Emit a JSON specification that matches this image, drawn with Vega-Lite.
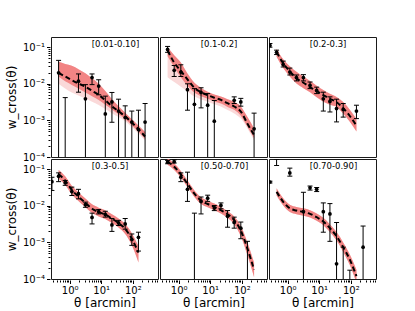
{
  "$schema": "https://vega.github.io/schema/vega-lite/v6.json",
  "padding": {"left": 5, "top": 36, "right": 5, "bottom": 2},
  "config": {
    "font": "DejaVu Sans",
    "view": {"stroke": "#1a1a1a", "strokeWidth": 1},
    "header": {"labels": false, "title": null, "labelFontSize": 0, "labelPadding": 0, "titlePadding": 0},
    "axis": {"grid": false, "domain": false, "tickColor": "#000", "labelColor": "#000", "titleColor": "#000", "labelFontSize": 10, "titleFontSize": 12, "titleFontWeight": "normal", "labelFlush": false, "labelOverlap": false, "labelBound": false}
  },
  "data": {"values": [
    {"p":"[0.01-0.10]","t":0.447,"m":0.0200,"hi":0.0398,"lo":0.0158,"flo":0.0100},
    {"p":"[0.01-0.10]","t":0.724,"m":0.0158,"hi":0.0347,"lo":0.0117,"flo":0.00741},
    {"p":"[0.01-0.10]","t":1.175,"m":0.0126,"hi":0.0309,"lo":0.00933,"flo":0.00575},
    {"p":"[0.01-0.10]","t":1.905,"m":0.0102,"hi":0.0251,"lo":0.00741,"flo":0.00479},
    {"p":"[0.01-0.10]","t":3.162,"m":0.00832,"hi":0.0195,"lo":0.00575,"flo":0.00398},
    {"p":"[0.01-0.10]","t":5.129,"m":0.00646,"hi":0.0141,"lo":0.00457,"flo":0.00324},
    {"p":"[0.01-0.10]","t":8.318,"m":0.00501,"hi":0.0100,"lo":0.00363,"flo":0.00263},
    {"p":"[0.01-0.10]","t":13.49,"m":0.00355,"hi":0.00631,"lo":0.00269,"flo":0.00204},
    {"p":"[0.01-0.10]","t":21.88,"m":0.00245,"hi":0.00380,"lo":0.00200,"flo":0.00158},
    {"p":"[0.01-0.10]","t":35.48,"m":0.00178,"hi":0.00245,"lo":0.00148,"flo":0.00123},
    {"p":"[0.01-0.10]","t":57.54,"m":0.00129,"hi":0.00162,"lo":0.00110,"flo":0.000955},
    {"p":"[0.01-0.10]","t":93.33,"m":0.000871,"hi":0.00107,"lo":0.000741,"flo":0.000661},
    {"p":"[0.01-0.10]","t":151.4,"m":0.000575,"hi":0.000724,"lo":0.000490,"flo":0.000437},
    {"p":"[0.01-0.10]","t":245.5,"m":0.000363,"hi":0.000479,"lo":0.000309,"flo":0.000282},
    {"p":"[0.1-0.2]","t":0.447,"m":0.0813,"hi":0.100,"lo":0.0562,"flo":0.0151},
    {"p":"[0.1-0.2]","t":0.724,"m":0.0380,"hi":0.0603,"lo":0.0282,"flo":0.0112},
    {"p":"[0.1-0.2]","t":1.175,"m":0.0224,"hi":0.0380,"lo":0.0151,"flo":0.00832},
    {"p":"[0.1-0.2]","t":1.905,"m":0.0132,"hi":0.0191,"lo":0.00891,"flo":0.00617},
    {"p":"[0.1-0.2]","t":3.162,"m":0.00776,"hi":0.0107,"lo":0.00575,"flo":0.00447},
    {"p":"[0.1-0.2]","t":5.129,"m":0.00589,"hi":0.00776,"lo":0.00457,"flo":0.00372},
    {"p":"[0.1-0.2]","t":8.318,"m":0.00490,"hi":0.00603,"lo":0.00389,"flo":0.00324},
    {"p":"[0.1-0.2]","t":13.49,"m":0.00417,"hi":0.00513,"lo":0.00331,"flo":0.00275},
    {"p":"[0.1-0.2]","t":21.88,"m":0.00363,"hi":0.00447,"lo":0.00288,"flo":0.00240},
    {"p":"[0.1-0.2]","t":35.48,"m":0.00295,"hi":0.00380,"lo":0.00234,"flo":0.00191},
    {"p":"[0.1-0.2]","t":57.54,"m":0.00240,"hi":0.00324,"lo":0.00195,"flo":0.00155},
    {"p":"[0.1-0.2]","t":93.33,"m":0.00174,"hi":0.00240,"lo":0.00135,"flo":0.00112},
    {"p":"[0.1-0.2]","t":151.4,"m":0.000813,"hi":0.00123,"lo":0.000676,"flo":0.000603},
    {"p":"[0.1-0.2]","t":245.5,"m":0.000398,"hi":0.000603,"lo":0.000331,"flo":0.000282},
    {"p":"[0.2-0.3]","t":0.447,"m":0.0741,"hi":0.0912,"lo":0.0550,"flo":0.0550},
    {"p":"[0.2-0.3]","t":0.724,"m":0.0363,"hi":0.0468,"lo":0.0269,"flo":0.0269},
    {"p":"[0.2-0.3]","t":1.175,"m":0.0219,"hi":0.0302,"lo":0.0158,"flo":0.0158},
    {"p":"[0.2-0.3]","t":1.905,"m":0.0141,"hi":0.0214,"lo":0.0102,"flo":0.0102},
    {"p":"[0.2-0.3]","t":3.162,"m":0.0107,"hi":0.0158,"lo":0.00759,"flo":0.00759},
    {"p":"[0.2-0.3]","t":5.129,"m":0.00813,"hi":0.0120,"lo":0.00589,"flo":0.00589},
    {"p":"[0.2-0.3]","t":8.318,"m":0.00631,"hi":0.00891,"lo":0.00427,"flo":0.00427},
    {"p":"[0.2-0.3]","t":13.49,"m":0.00490,"hi":0.00676,"lo":0.00324,"flo":0.00324},
    {"p":"[0.2-0.3]","t":21.88,"m":0.00389,"hi":0.00537,"lo":0.00269,"flo":0.00269},
    {"p":"[0.2-0.3]","t":35.48,"m":0.00316,"hi":0.00437,"lo":0.00234,"flo":0.00234},
    {"p":"[0.2-0.3]","t":57.54,"m":0.00214,"hi":0.00316,"lo":0.00155,"flo":0.00155},
    {"p":"[0.2-0.3]","t":93.33,"m":0.00132,"hi":0.00195,"lo":0.000912,"flo":0.000912},
    {"p":"[0.2-0.3]","t":151.4,"m":0.000724,"hi":0.00110,"lo":0.000501,"flo":0.000501},
    {"p":"[0.3-0.5]","t":0.447,"m":0.0724,"hi":0.0955,"lo":0.0550,"flo":0.0550},
    {"p":"[0.3-0.5]","t":0.724,"m":0.0490,"hi":0.0646,"lo":0.0372,"flo":0.0372},
    {"p":"[0.3-0.5]","t":1.175,"m":0.0269,"hi":0.0355,"lo":0.0204,"flo":0.0204},
    {"p":"[0.3-0.5]","t":1.905,"m":0.0178,"hi":0.0234,"lo":0.0135,"flo":0.0135},
    {"p":"[0.3-0.5]","t":3.162,"m":0.0120,"hi":0.0158,"lo":0.00912,"flo":0.00912},
    {"p":"[0.3-0.5]","t":5.129,"m":0.00832,"hi":0.0110,"lo":0.00631,"flo":0.00631},
    {"p":"[0.3-0.5]","t":8.318,"m":0.00676,"hi":0.00891,"lo":0.00513,"flo":0.00513},
    {"p":"[0.3-0.5]","t":13.49,"m":0.00575,"hi":0.00759,"lo":0.00437,"flo":0.00437},
    {"p":"[0.3-0.5]","t":21.88,"m":0.00447,"hi":0.00589,"lo":0.00339,"flo":0.00339},
    {"p":"[0.3-0.5]","t":35.48,"m":0.00339,"hi":0.00447,"lo":0.00257,"flo":0.00257},
    {"p":"[0.3-0.5]","t":57.54,"m":0.00234,"hi":0.00316,"lo":0.00170,"flo":0.00170},
    {"p":"[0.3-0.5]","t":93.33,"m":0.00126,"hi":0.00178,"lo":0.000832,"flo":0.000832},
    {"p":"[0.3-0.5]","t":151.4,"m":0.000525,"hi":0.000794,"lo":0.000282,"flo":0.000282},
    {"p":"[0.50-0.70]","t":0.447,"m":0.162,"hi":0.200,"lo":0.132,"flo":0.132},
    {"p":"[0.50-0.70]","t":0.724,"m":0.117,"hi":0.145,"lo":0.0955,"flo":0.0955},
    {"p":"[0.50-0.70]","t":1.175,"m":0.0724,"hi":0.0891,"lo":0.0589,"flo":0.0589},
    {"p":"[0.50-0.70]","t":1.905,"m":0.0398,"hi":0.0490,"lo":0.0324,"flo":0.0324},
    {"p":"[0.50-0.70]","t":3.162,"m":0.0214,"hi":0.0263,"lo":0.0174,"flo":0.0174},
    {"p":"[0.50-0.70]","t":5.129,"m":0.0138,"hi":0.0170,"lo":0.0112,"flo":0.0112},
    {"p":"[0.50-0.70]","t":8.318,"m":0.0112,"hi":0.0138,"lo":0.00912,"flo":0.00912},
    {"p":"[0.50-0.70]","t":13.49,"m":0.00933,"hi":0.0115,"lo":0.00759,"flo":0.00759},
    {"p":"[0.50-0.70]","t":21.88,"m":0.00759,"hi":0.00933,"lo":0.00617,"flo":0.00617},
    {"p":"[0.50-0.70]","t":35.48,"m":0.00589,"hi":0.00724,"lo":0.00468,"flo":0.00468},
    {"p":"[0.50-0.70]","t":57.54,"m":0.00407,"hi":0.00513,"lo":0.00309,"flo":0.00309},
    {"p":"[0.50-0.70]","t":93.33,"m":0.00209,"hi":0.00282,"lo":0.00148,"flo":0.00148},
    {"p":"[0.50-0.70]","t":151.4,"m":0.000676,"hi":0.00100,"lo":0.000447,"flo":0.000447},
    {"p":"[0.50-0.70]","t":245.5,"m":0.000178,"hi":0.000282,"lo":0.000112,"flo":0.000112},
    {"p":"[0.70-0.90]","t":0.447,"m":0.0240,"hi":0.0302,"lo":0.0191,"flo":0.0191},
    {"p":"[0.70-0.90]","t":0.724,"m":0.0129,"hi":0.0162,"lo":0.0102,"flo":0.0102},
    {"p":"[0.70-0.90]","t":1.175,"m":0.00851,"hi":0.0107,"lo":0.00676,"flo":0.00676},
    {"p":"[0.70-0.90]","t":1.905,"m":0.00741,"hi":0.00933,"lo":0.00589,"flo":0.00589},
    {"p":"[0.70-0.90]","t":3.162,"m":0.00676,"hi":0.00851,"lo":0.00537,"flo":0.00537},
    {"p":"[0.70-0.90]","t":5.129,"m":0.00603,"hi":0.00759,"lo":0.00479,"flo":0.00479},
    {"p":"[0.70-0.90]","t":8.318,"m":0.00490,"hi":0.00617,"lo":0.00389,"flo":0.00389},
    {"p":"[0.70-0.90]","t":13.49,"m":0.00372,"hi":0.00468,"lo":0.00295,"flo":0.00295},
    {"p":"[0.70-0.90]","t":21.88,"m":0.00245,"hi":0.00309,"lo":0.00191,"flo":0.00191},
    {"p":"[0.70-0.90]","t":35.48,"m":0.00148,"hi":0.00191,"lo":0.00112,"flo":0.00112},
    {"p":"[0.70-0.90]","t":57.54,"m":0.000741,"hi":0.00100,"lo":0.000550,"flo":0.000550},
    {"p":"[0.70-0.90]","t":93.33,"m":0.000339,"hi":0.000468,"lo":0.000240,"flo":0.000240},
    {"p":"[0.70-0.90]","t":151.4,"m":0.000120,"hi":0.000178,"lo":0.0000794,"flo":0.0000794},

    {"p":"[0.01-0.10]","t":0.447,"w":0.0200,"el":0.000001,"eh":0.0437},
    {"p":"[0.01-0.10]","t":0.724,"el":0.000001,"eh":0.0042},
    {"p":"[0.01-0.10]","t":1.905,"w":0.0118,"el":0.0059,"eh":0.0186},
    {"p":"[0.01-0.10]","t":3.162,"w":0.0039,"el":0.000001,"eh":0.0095},
    {"p":"[0.01-0.10]","t":5.129,"w":0.0148,"el":0.0095,"eh":0.0186},
    {"p":"[0.01-0.10]","t":8.318,"w":0.0087,"el":0.0050,"eh":0.0129},
    {"p":"[0.01-0.10]","t":13.49,"w":0.0015,"el":0.000001,"eh":0.0046},
    {"p":"[0.01-0.10]","t":21.88,"w":0.0032,"el":0.00089,"eh":0.0058},
    {"p":"[0.01-0.10]","t":35.48,"w":0.0018,"el":0.000001,"eh":0.0038},
    {"p":"[0.01-0.10]","t":57.54,"w":0.0012,"el":0.000001,"eh":0.0025},
    {"p":"[0.01-0.10]","t":93.33,"w":0.0009,"el":0.000001,"eh":0.0018},
    {"p":"[0.01-0.10]","t":151.4,"w":0.00056,"el":0.000001,"eh":0.0019},
    {"p":"[0.01-0.10]","t":245.5,"w":0.0009,"el":0.000001,"eh":0.0029},
    {"p":"[0.1-0.2]","t":0.447,"w":0.087,"el":0.0724,"eh":0.105},
    {"p":"[0.1-0.2]","t":0.724,"w":0.0234,"el":0.0158,"eh":0.0316},
    {"p":"[0.1-0.2]","t":1.175,"w":0.0209,"el":0.0158,"eh":0.0331},
    {"p":"[0.1-0.2]","t":1.905,"w":0.0069,"el":0.0019,"eh":0.0100},
    {"p":"[0.1-0.2]","t":3.162,"w":0.00275,"el":0.000001,"eh":0.0074},
    {"p":"[0.1-0.2]","t":5.129,"w":0.0058,"el":0.0022,"eh":0.0078},
    {"p":"[0.1-0.2]","t":8.318,"w":0.0026,"el":0.000001,"eh":0.0054},
    {"p":"[0.1-0.2]","t":13.49,"w":0.00095,"el":0.000001,"eh":0.0035},
    {"p":"[0.1-0.2]","t":57.54,"w":0.00355,"el":0.0029,"eh":0.0044},
    {"p":"[0.1-0.2]","t":93.33,"w":0.0032,"el":0.00245,"eh":0.0040},
    {"p":"[0.1-0.2]","t":245.5,"w":0.00059,"el":0.000001,"eh":0.00158},
    {"p":"[0.2-0.3]","t":0.275,"w":0.112,"el":0.100,"eh":0.126},
    {"p":"[0.2-0.3]","t":0.447,"w":0.0724,"el":0.063,"eh":0.083},
    {"p":"[0.2-0.3]","t":0.724,"w":0.0339,"el":0.0288,"eh":0.0417},
    {"p":"[0.2-0.3]","t":1.175,"w":0.0209,"el":0.0174,"eh":0.0269},
    {"p":"[0.2-0.3]","t":1.905,"w":0.0148,"el":0.0120,"eh":0.0174},
    {"p":"[0.2-0.3]","t":3.162,"w":0.0148,"el":0.0120,"eh":0.0178},
    {"p":"[0.2-0.3]","t":5.129,"w":0.0091,"el":0.0074,"eh":0.0112},
    {"p":"[0.2-0.3]","t":8.318,"w":0.0066,"el":0.0054,"eh":0.0081},
    {"p":"[0.2-0.3]","t":13.49,"w":0.0039,"el":0.0018,"eh":0.0059},
    {"p":"[0.2-0.3]","t":21.88,"w":0.0033,"el":0.0017,"eh":0.0044},
    {"p":"[0.2-0.3]","t":35.48,"w":0.0021,"el":0.00091,"eh":0.0038},
    {"p":"[0.2-0.3]","t":57.54,"w":0.0020,"el":0.00123,"eh":0.0029},
    {"p":"[0.2-0.3]","t":151.4,"w":0.0018,"el":0.00112,"eh":0.0026},
    {"p":"[0.3-0.5]","t":0.275,"w":0.0457,"el":0.0263,"eh":0.0603},
    {"p":"[0.3-0.5]","t":0.447,"w":0.0646,"el":0.0457,"eh":0.0794},
    {"p":"[0.3-0.5]","t":0.724,"w":0.0427,"el":0.0363,"eh":0.049},
    {"p":"[0.3-0.5]","t":1.175,"w":0.0245,"el":0.0191,"eh":0.0324},
    {"p":"[0.3-0.5]","t":1.905,"w":0.0214,"el":0.0155,"eh":0.0282},
    {"p":"[0.3-0.5]","t":3.162,"w":0.0107,"el":0.0091,"eh":0.0126},
    {"p":"[0.3-0.5]","t":5.129,"w":0.0048,"el":0.0032,"eh":0.0063},
    {"p":"[0.3-0.5]","t":8.318,"w":0.0069,"el":0.0060,"eh":0.0079},
    {"p":"[0.3-0.5]","t":13.49,"w":0.0058,"el":0.0049,"eh":0.0071},
    {"p":"[0.3-0.5]","t":21.88,"w":0.0030,"el":0.0020,"eh":0.0045},
    {"p":"[0.3-0.5]","t":35.48,"w":0.0034,"el":0.0029,"eh":0.0040},
    {"p":"[0.3-0.5]","t":57.54,"w":0.0032,"el":0.0023,"eh":0.0045},
    {"p":"[0.3-0.5]","t":93.33,"w":0.0012,"el":0.00083,"eh":0.0017},
    {"p":"[0.3-0.5]","t":151.4,"w":0.00138,"el":0.00058,"eh":0.0019},
    {"p":"[0.50-0.70]","t":0.447,"w":0.155,"el":0.141,"eh":0.174},
    {"p":"[0.50-0.70]","t":0.724,"w":0.160,"el":0.148,"eh":0.180},
    {"p":"[0.50-0.70]","t":1.175,"w":0.0603,"el":0.0457,"eh":0.0794},
    {"p":"[0.50-0.70]","t":1.905,"w":0.0282,"el":0.0132,"eh":0.083},
    {"p":"[0.50-0.70]","t":3.162,"el":0.000001,"eh":0.0063},
    {"p":"[0.50-0.70]","t":5.129,"w":0.0132,"el":0.0060,"eh":0.0174},
    {"p":"[0.50-0.70]","t":8.318,"w":0.0162,"el":0.0132,"eh":0.0195},
    {"p":"[0.50-0.70]","t":13.49,"w":0.0087,"el":0.0074,"eh":0.0102},
    {"p":"[0.50-0.70]","t":21.88,"w":0.0102,"el":0.0083,"eh":0.0120},
    {"p":"[0.50-0.70]","t":35.48,"w":0.0052,"el":0.0026,"eh":0.0074},
    {"p":"[0.50-0.70]","t":57.54,"w":0.0035,"el":0.00245,"eh":0.0049},
    {"p":"[0.50-0.70]","t":93.33,"w":0.00245,"el":0.00126,"eh":0.0036},
    {"p":"[0.50-0.70]","t":151.4,"el":0.000001,"eh":0.00107},
    {"p":"[0.70-0.90]","t":0.275,"w":0.0447,"el":0.042,"eh":0.047},
    {"p":"[0.70-0.90]","t":0.447,"el":0.126,"eh":0.19},
    {"p":"[0.70-0.90]","t":1.175,"w":0.079,"el":0.0646,"eh":0.107},
    {"p":"[0.70-0.90]","t":3.162,"w":0.0069,"el":0.000001,"eh":0.0234},
    {"p":"[0.70-0.90]","t":5.129,"w":0.0309,"el":0.0269,"eh":0.0347},
    {"p":"[0.70-0.90]","t":8.318,"w":0.0282,"el":0.0245,"eh":0.0316},
    {"p":"[0.70-0.90]","t":13.49,"w":0.0069,"el":0.0019,"eh":0.0120},
    {"p":"[0.70-0.90]","t":21.88,"w":0.0060,"el":0.00107,"eh":0.0115},
    {"p":"[0.70-0.90]","t":35.48,"w":0.00026,"el":0.000001,"eh":0.0035},
    {"p":"[0.70-0.90]","t":57.54,"el":0.000001,"eh":0.00074},
    {"p":"[0.70-0.90]","t":93.33,"el":0.000001,"eh":0.000174},
    {"p":"[0.70-0.90]","t":245.5,"w":0.00074,"el":0.000001,"eh":0.0028}
  ]},
  "facet": {"field": "p", "type": "nominal", "title": null, "sort": ["[0.01-0.10]", "[0.1-0.2]", "[0.2-0.3]", "[0.3-0.5]", "[0.50-0.70]", "[0.70-0.90]"], "header": {"labels": false, "title": null, "labelExpr": "''", "labelFontSize": 0, "labelPadding": 0}},
  "columns": 3,
  "spacing": 0,
  "spec": {
    "width": 107,
    "height": 120,
    "layer": [
      {
        "transform": [{"filter": "isValid(datum.m)"}],
        "mark": {"type": "area", "color": "#f08080", "opacity": 0.3, "interpolate": "monotone", "clip": true},
        "encoding": {
          "x": {"field": "t", "type": "quantitative", "title": "θ [arcmin]",
            "scale": {"type": "log", "domain": [0.257, 630], "nice": false},
            "axis": {"values": [0.3,0.4,0.5,0.6,0.7,0.8,0.9,1,2,3,4,5,6,7,8,9,10,20,30,40,50,60,70,80,90,100,200,300,400,500,600],
              "labelExpr": "abs(log(datum.value)/LN10 - round(log(datum.value)/LN10)) > 0.01 ? '' : round(log(datum.value)/LN10) == 0 ? '10⁰' : round(log(datum.value)/LN10) == 1 ? '10¹' : '10²'",
              "tickSize": {"condition": {"test": "abs(log(datum.value)/LN10 - round(log(datum.value)/LN10)) < 0.01", "value": 3.5}, "value": 2},
              "labelPadding": 2, "titlePadding": 2}},
          "y": {"field": "hi", "type": "quantitative", "title": "w_cross(θ)",
            "scale": {"type": "log", "domain": [0.0001, 0.19], "nice": false},
            "axis": {"values": [0.0001,0.0002,0.0003,0.0004,0.0005,0.0006,0.0007,0.0008,0.0009,0.001,0.002,0.003,0.004,0.005,0.006,0.007,0.008,0.009,0.01,0.02,0.03,0.04,0.05,0.06,0.07,0.08,0.09,0.1],
              "labelExpr": "abs(log(datum.value)/LN10 - round(log(datum.value)/LN10)) > 0.01 ? '' : round(log(datum.value)/LN10) == -4 ? '10⁻⁴' : round(log(datum.value)/LN10) == -3 ? '10⁻³' : round(log(datum.value)/LN10) == -2 ? '10⁻²' : '10⁻¹'",
              "tickSize": {"condition": {"test": "abs(log(datum.value)/LN10 - round(log(datum.value)/LN10)) < 0.01", "value": 3.5}, "value": 2},
              "labelPadding": 2, "titlePadding": 4}},
          "y2": {"field": "flo"}
        }
      },
      {
        "transform": [{"filter": "isValid(datum.m)"}],
        "mark": {"type": "area", "color": "#f07474", "opacity": 0.85, "interpolate": "monotone", "clip": true},
        "encoding": {
          "x": {"field": "t", "type": "quantitative"},
          "y": {"field": "hi", "type": "quantitative"},
          "y2": {"field": "lo"}
        }
      },
      {
        "transform": [{"filter": "isValid(datum.m)"}],
        "mark": {"type": "line", "color": "#000", "strokeWidth": 2, "strokeDash": [5, 3], "interpolate": "monotone", "clip": true},
        "encoding": {
          "x": {"field": "t", "type": "quantitative"},
          "y": {"field": "m", "type": "quantitative"}
        }
      },
      {
        "transform": [{"filter": "isValid(datum.eh)"}],
        "mark": {"type": "rule", "color": "#000", "strokeWidth": 1, "clip": true},
        "encoding": {
          "x": {"field": "t", "type": "quantitative"},
          "y": {"field": "eh", "type": "quantitative"},
          "y2": {"field": "el"}
        }
      },
      {
        "transform": [{"filter": "isValid(datum.eh)"}],
        "mark": {"type": "tick", "orient": "horizontal", "color": "#000", "size": 5, "thickness": 1, "opacity": 1, "clip": true},
        "encoding": {
          "x": {"field": "t", "type": "quantitative"},
          "y": {"field": "eh", "type": "quantitative"}
        }
      },
      {
        "transform": [{"filter": "isValid(datum.eh) && datum.el > 0.00001"}],
        "mark": {"type": "tick", "orient": "horizontal", "color": "#000", "size": 5, "thickness": 1, "opacity": 1, "clip": true},
        "encoding": {
          "x": {"field": "t", "type": "quantitative"},
          "y": {"field": "el", "type": "quantitative"}
        }
      },
      {
        "transform": [{"filter": "isValid(datum.w)"}],
        "mark": {"type": "circle", "color": "#000", "size": 14, "opacity": 1, "clip": true},
        "encoding": {
          "x": {"field": "t", "type": "quantitative"},
          "y": {"field": "w", "type": "quantitative"}
        }
      },
      {
        "transform": [{"aggregate": [{"op": "count", "as": "n"}], "groupby": ["p"]}],
        "mark": {"type": "text", "align": "left", "baseline": "middle", "fontSize": 8.5, "color": "#000"},
        "encoding": {
          "x": {"datum": 5.0},
          "y": {"datum": 0.12},
          "text": {"field": "p"}
        }
      }
    ]
  }
}
